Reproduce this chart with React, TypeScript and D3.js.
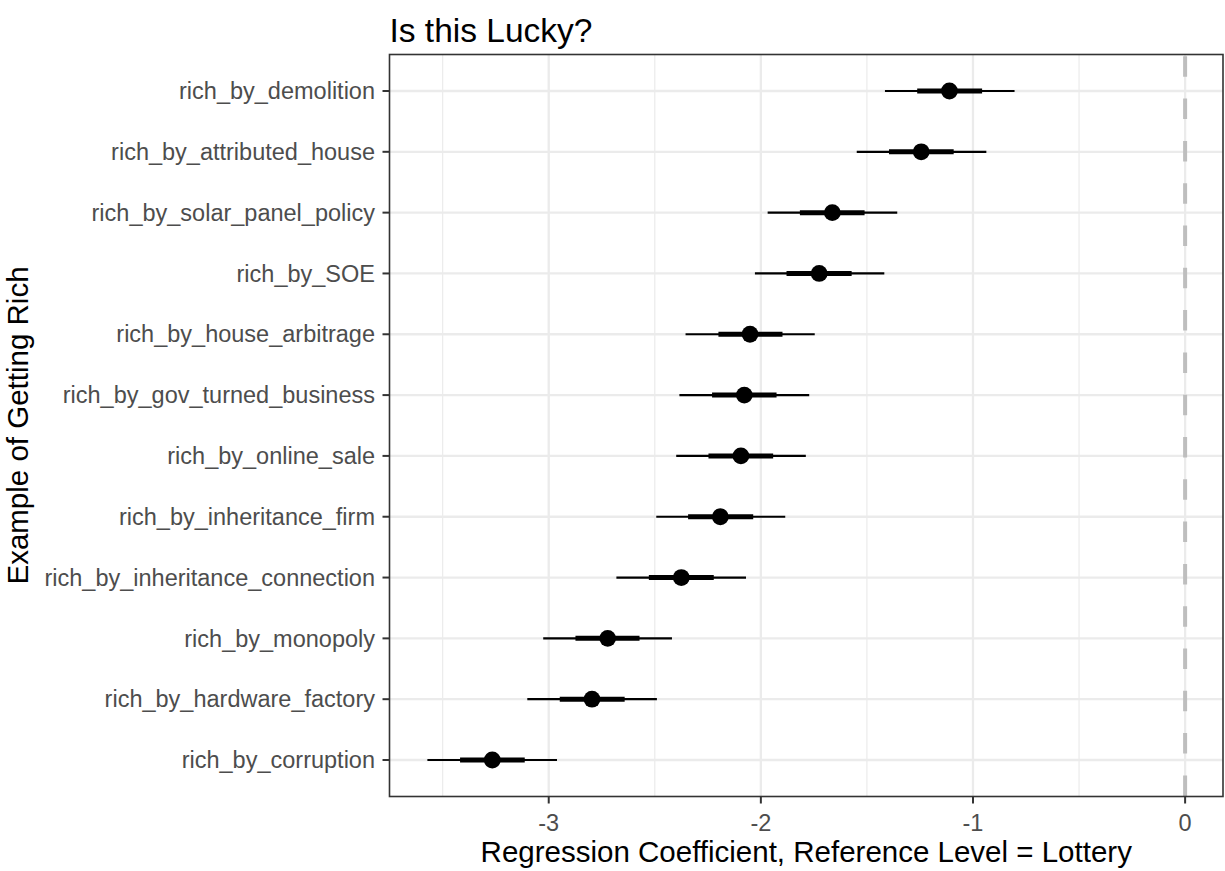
import React from "react";
import * as d3 from "d3";

const categories = [
  "rich_by_demolition",
  "rich_by_attributed_house",
  "rich_by_solar_panel_policy",
  "rich_by_SOE",
  "rich_by_house_arbitrage",
  "rich_by_gov_turned_business",
  "rich_by_online_sale",
  "rich_by_inheritance_firm",
  "rich_by_inheritance_connection",
  "rich_by_monopoly",
  "rich_by_hardware_factory",
  "rich_by_corruption",
];
const estimate = [-1.111, -1.244, -1.663, -1.725, -2.051, -2.078, -2.094, -2.191, -2.375, -2.722, -2.796, -3.266];
const innerLow = [-1.263, -1.396, -1.816, -1.879, -2.2, -2.23, -2.247, -2.343, -2.528, -2.874, -2.948, -3.418];
const innerHigh = [-0.957, -1.091, -1.511, -1.572, -1.898, -1.926, -1.942, -2.036, -2.222, -2.572, -2.642, -3.113];
const outerLow = [-1.415, -1.548, -1.968, -2.028, -2.355, -2.384, -2.399, -2.493, -2.681, -3.026, -3.101, -3.572];
const outerHigh = [-0.804, -0.937, -1.357, -1.418, -1.746, -1.772, -1.788, -1.885, -2.07, -2.419, -2.49, -2.961];
const xTicks = [-3, -2, -1, 0];
const xMinorTicks = [-3.5, -2.5, -1.5, -0.5];
const referenceValue = 0;

const title = "Is this Lucky?";
const xTitle = "Regression Coefficient, Reference Level = Lottery";
const yTitle = "Example of Getting Rich";

const W = 1225;
const H = 871;
const panel = { left: 389.5, right: 1223, top: 54.5, bottom: 796.5 };
const FONT = "'Liberation Sans', Arial, Helvetica, sans-serif";

export default function App() {
  const lo = Math.min(d3.min(outerLow) as number, referenceValue);
  const hi = Math.max(d3.max(outerHigh) as number, referenceValue);
  const pad = (hi - lo) * 0.05;
  const x = d3.scaleLinear().domain([lo - pad, hi + pad]).range([panel.left, panel.right]);
  const y = d3
    .scalePoint<string>()
    .domain(categories)
    .range([panel.top, panel.bottom])
    .padding(0.6);

  return (
    <svg
      width={W}
      height={H}
      style={{ position: "absolute", left: 0, top: 0, background: "#fff" }}
      fontFamily={FONT}
    >
      <rect x={0} y={0} width={W} height={H} fill="#fff" />
      {/* grid */}
      {xMinorTicks.map((t) => (
        <line key={"mx" + t} x1={x(t)} x2={x(t)} y1={panel.top} y2={panel.bottom} stroke="#EBEBEB" strokeWidth={1.2} />
      ))}
      {xTicks.map((t) => (
        <line key={"gx" + t} x1={x(t)} x2={x(t)} y1={panel.top} y2={panel.bottom} stroke="#EBEBEB" strokeWidth={2.3} />
      ))}
      {categories.map((c) => (
        <line key={"gy" + c} x1={panel.left} x2={panel.right} y1={y(c)} y2={y(c)} stroke="#EBEBEB" strokeWidth={2.3} />
      ))}
      {/* reference line */}
      <line
        x1={x(referenceValue)}
        x2={x(referenceValue)}
        y1={panel.top}
        y2={panel.bottom}
        stroke="#BEBEBE"
        strokeWidth={4}
        strokeDasharray="20.5 21.8"
        strokeDashoffset={-1.8}
      />
      {/* estimates */}
      {categories.map((c, i) => {
        const cy = y(c) as number;
        return (
          <g key={"pt" + c}>
            <line x1={x(outerLow[i])} x2={x(outerHigh[i])} y1={cy} y2={cy} stroke="#000" strokeWidth={2.2} />
            <line x1={x(innerLow[i])} x2={x(innerHigh[i])} y1={cy} y2={cy} stroke="#000" strokeWidth={5} />
            <circle cx={x(estimate[i])} cy={cy} r={8.4} fill="#000" />
          </g>
        );
      })}
      {/* panel border */}
      <rect
        x={panel.left}
        y={panel.top}
        width={panel.right - panel.left}
        height={panel.bottom - panel.top}
        fill="none"
        stroke="#333333"
        strokeWidth={1.6}
      />
      {/* y axis */}
      {categories.map((c) => (
        <g key={"yt" + c}>
          <line x1={panel.left - 7} x2={panel.left} y1={y(c)} y2={y(c)} stroke="#333333" strokeWidth={2} />
          <text
            x={panel.left - 14.5}
            y={y(c)}
            dy="0.35em"
            textAnchor="end"
            fontSize={23.5}
            fill="#4D4D4D"
          >
            {c}
          </text>
        </g>
      ))}
      {/* x axis */}
      {xTicks.map((t) => (
        <g key={"xt" + t}>
          <line x1={x(t)} x2={x(t)} y1={panel.bottom} y2={panel.bottom + 7} stroke="#333333" strokeWidth={2} />
          <text x={x(t)} y={830.5} textAnchor="middle" fontSize={23.5} fill="#4D4D4D">
            {d3.format("")(t).replace("−", "-")}
          </text>
        </g>
      ))}
      <text x={(panel.left + panel.right) / 2} y={862} textAnchor="middle" fontSize={29.5} fill="#000">
        {xTitle}
      </text>
      <text
        transform={`translate(28,${(panel.top + panel.bottom) / 2}) rotate(-90)`}
        textAnchor="middle"
        fontSize={29.5}
        fill="#000"
      >
        {yTitle}
      </text>
      <text x={panel.left} y={42} fontSize={33.5} fill="#000">
        {title}
      </text>
    </svg>
  );
}
